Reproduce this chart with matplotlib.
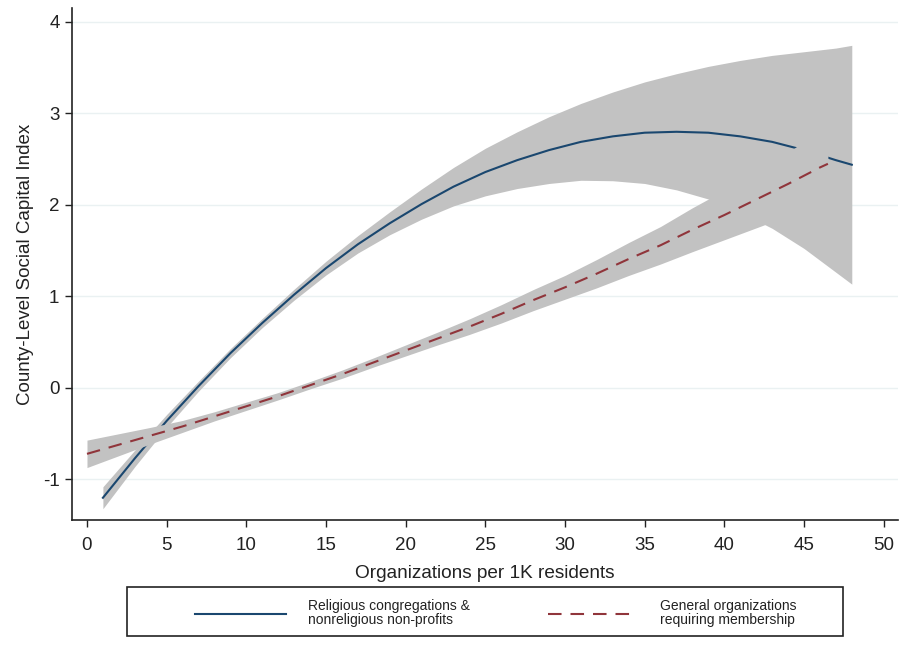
import matplotlib
matplotlib.use("Agg")
import matplotlib.pyplot as plt
from matplotlib.patches import Rectangle
import numpy as np

plt.rcParams['font.family'] = ['Liberation Sans', 'DejaVu Sans']
plt.rcParams['axes.unicode_minus'] = False

# Religious congregations & nonreligious non-profits (quadratic fit, with CI half-width)
rel_x = [1, 3, 5, 7, 9, 11, 13, 15, 17, 19, 21, 23, 25, 27, 29, 31, 33, 35, 37, 39, 41, 43, 45, 47, 48]
rel_y = [-1.20, -0.77, -0.36, 0.02, 0.38, 0.71, 1.02, 1.31, 1.57, 1.80, 2.01, 2.20, 2.36, 2.49,
         2.60, 2.69, 2.75, 2.79, 2.80, 2.79, 2.75, 2.69, 2.60, 2.49, 2.44]
rel_hw = [0.12, 0.09, 0.07, 0.055, 0.05, 0.05, 0.06, 0.075, 0.095, 0.125, 0.165, 0.21, 0.26, 0.31,
          0.365, 0.42, 0.485, 0.555, 0.635, 0.725, 0.83, 0.945, 1.075, 1.225, 1.305]

# General organizations requiring membership
gen_x = [0, 2, 4, 6, 8, 10, 12, 14, 16, 18, 20, 22, 24, 26, 28, 30, 32, 34, 36, 38, 40, 42, 44, 46, 46.5]
gen_y = [-0.72, -0.62, -0.52, -0.42, -0.31, -0.20, -0.09, 0.03, 0.15, 0.28, 0.41, 0.54, 0.67, 0.81,
         0.96, 1.10, 1.25, 1.41, 1.56, 1.73, 1.89, 2.06, 2.23, 2.41, 2.45]
gen_hw = [0.15, 0.12, 0.09, 0.065, 0.05, 0.045, 0.04, 0.04, 0.045, 0.05, 0.06, 0.07, 0.085, 0.10,
          0.115, 0.13, 0.155, 0.18, 0.205, 0.24, 0.27, 0.31, 0.35, 0.39, 0.40]

x_ticks = [0, 5, 10, 15, 20, 25, 30, 35, 40, 45, 50]
y_ticks = [-1, 0, 1, 2, 3, 4]
labels = ["Religious congregations &\nnonreligious non-profits",
          "General organizations\nrequiring membership"]

BLUE = '#1a476f'
RED = '#90353b'
BAND = '#c2c2c2'
INK = '#222222'

W, H = 907, 646
fig = plt.figure(figsize=(W / 100, H / 100), dpi=100)
ax = fig.add_axes([72 / W, (H - 520) / H, (898 - 72) / W, (520 - 8) / H])

rx, ry, rh = np.array(rel_x), np.array(rel_y), np.array(rel_hw)
gx, gy, gh = np.array(gen_x), np.array(gen_y), np.array(gen_hw)

ax.fill_between(rx, ry - rh, ry + rh, color=BAND, lw=0, zorder=2)
l1, = ax.plot(rx, ry, color=BLUE, lw=1.5, zorder=3)
ax.fill_between(gx, gy - gh, gy + gh, color=BAND, lw=0, zorder=4)
l2, = ax.plot(gx, gy, color=RED, lw=1.5, dashes=(6.5, 4.3), zorder=5)

ax.set_xlim(-0.94, 50.9)
ax.set_ylim(-1.443, 4.153)
ax.set_xticks(x_ticks)
ax.set_yticks(y_ticks)
ax.yaxis.grid(True, color='#eaf1f2', lw=1.0, zorder=0)
ax.set_axisbelow(True)
for s in ['top', 'right']:
    ax.spines[s].set_visible(False)
for s in ['left', 'bottom']:
    ax.spines[s].set_color(INK)
    ax.spines[s].set_linewidth(1.2)
ax.tick_params(axis='both', direction='out', length=5, width=1.0, color=INK,
               labelsize=13.5, labelcolor=INK)
ax.tick_params(axis='x', pad=7)
ax.tick_params(axis='y', pad=4)
ax.set_xlabel("Organizations per 1K residents", fontsize=13.7, color=INK, labelpad=8)
ax.set_ylabel("County-Level Social Capital Index", fontsize=13.5, color=INK, labelpad=6)

# legend
fig.add_artist(Rectangle((127 / W, (H - 636) / H), (843 - 127) / W, (636 - 587) / H,
                         transform=fig.transFigure, fill=False, edgecolor=INK, lw=1.2))
leg = fig.legend([l1, l2], labels, loc='center', bbox_to_anchor=(496 / W, (H - 613) / H),
                 ncol=2, frameon=False, fontsize=10, handlelength=6.5, handletextpad=1.6,
                 columnspacing=5.6, borderpad=0, borderaxespad=0)
for t in leg.get_texts():
    t.set_color(INK)
    t.set_linespacing(1.05)

fig.savefig('out.png', dpi=100)
